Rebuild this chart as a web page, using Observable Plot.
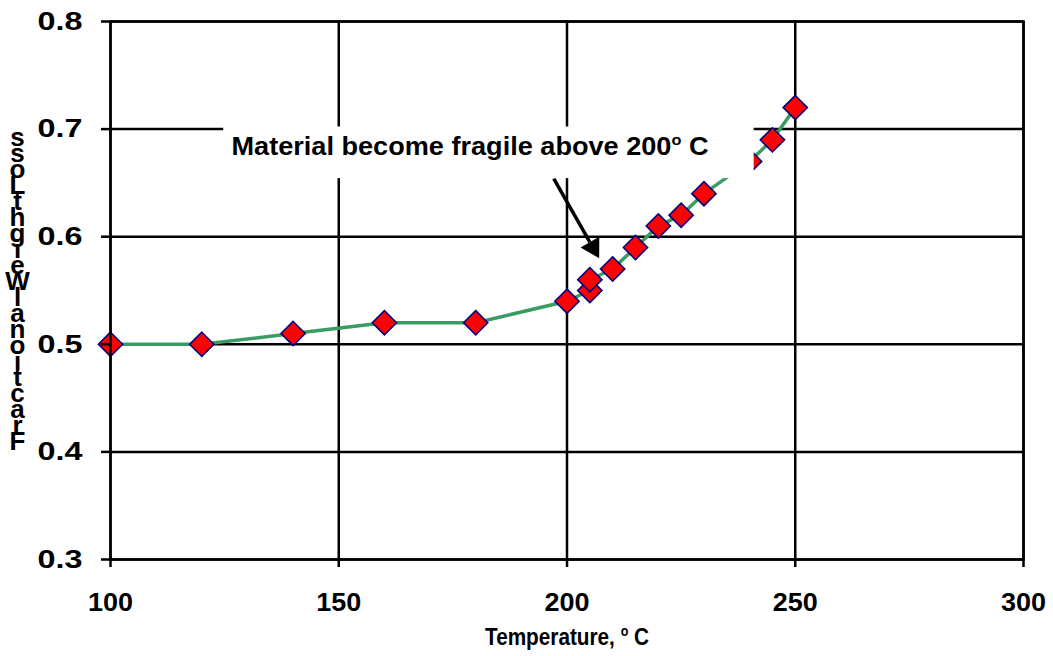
<!DOCTYPE html>
<html>
<head>
<meta charset="utf-8">
<script src="https://cdn.jsdelivr.net/npm/d3@7"></script>
<script src="https://cdn.jsdelivr.net/npm/@observablehq/plot@0.6"></script>
<style>
  html, body { margin: 0; padding: 0; background: #fff; }
  #chart svg { display: block; }
</style>
</head>
<body>
<div id="chart"></div>
<script>
// ---- data ----
const temperature = [100, 120, 140, 160, 180, 200, 205, 205, 210, 215, 220, 225, 230, 240, 245, 250];
const weightLoss  = [0.50, 0.50, 0.51, 0.52, 0.52, 0.54, 0.55, 0.56, 0.57, 0.59, 0.61, 0.62, 0.64, 0.67, 0.69, 0.72];
const xTicks = [100, 150, 200, 250, 300];
const yTicks = [0.3, 0.4, 0.5, 0.6, 0.7, 0.8];
const xLabel = "Temperature, ° C";
const yLabel = "Fractional Weight Loss";
const annotationText = "Material become fragile above 200° C";
// annotation placement in data units
const annBox = {x1: 124.8, x2: 241, y1: 0.654, y2: 0.702};
const annTextAt = {x: 126.5, y: 0.683};
const arrowFrom = {x: 197.1, y: 0.654};
const arrowBase = {x: 205.0, y: 0.595};
const arrowHead = {x: 205.7, y: 0.590};

const data = temperature.map((t, i) => ({t, w: weightLoss[i]}));
// stacked letters, read bottom-to-top (spaces dropped as in the original)
const stacked = yLabel.replace(/ /g, "").split("").reverse().join("\n");

const font = "'Liberation Sans', Arial, sans-serif";

const plot = Plot.plot({
  width: 1053,
  height: 656,
  marginLeft: 110,
  marginRight: 30,
  marginTop: 21,
  marginBottom: 97,
  style: {fontFamily: font, fontSize: "26px", fontWeight: "bold", color: "black", background: "white"},
  x: {domain: [100, 300]},
  y: {domain: [0.3, 0.8]},
  marks: [
    Plot.ruleX(xTicks, {stroke: "black", strokeWidth: 2.5}),
    Plot.ruleY(yTicks, {stroke: "black", strokeWidth: 2.5}),
    Plot.line(data, {x: "t", y: "w", stroke: "#3a9b63", strokeWidth: 3.5}),
    Plot.dot(data, {x: "t", y: "w", symbol: "diamond2", r: 10.9, fill: "#ff0000", stroke: "#000080", strokeWidth: 1.6}),
    Plot.rect([annBox], {x1: "x1", x2: "x2", y1: "y1", y2: "y2", fill: "white"}),
    Plot.text([annotationText], {x: () => annTextAt.x, y: () => annTextAt.y, text: d => d, textAnchor: "start", lineAnchor: "middle", fontSize: 25, fontWeight: "bold", fill: "black", className: "ann"}),
    Plot.link([0], {x1: () => arrowFrom.x, y1: () => arrowFrom.y, x2: () => arrowBase.x, y2: () => arrowBase.y, stroke: "black", strokeWidth: 3.5}),
    Plot.dot([0], {x: () => arrowHead.x, y: () => arrowHead.y, symbol: "triangle", r: 8, fill: "black", rotate: 150.3}),
    Plot.frame({stroke: "black", strokeWidth: 2.5}),
    Plot.axisX(xTicks, {tickSize: 8, tickPadding: 25, strokeWidth: 2.5, fontSize: 26, fontWeight: "bold", label: null}),
    Plot.axisY(yTicks, {tickSize: 9, tickPadding: 19, strokeWidth: 2.5, fontSize: 26, fontWeight: "bold", label: null, tickFormat: d3.format(".1f")}),
    Plot.text([xLabel], {frameAnchor: "bottom", text: d => d, lineAnchor: "middle", dy: 78, fontSize: 23, fontWeight: "bold", className: "xlab"}),
    Plot.text([stacked], {frameAnchor: "left", text: d => d, textAnchor: "middle", lineAnchor: "middle", lineHeight: 0.615, dx: -93, dy: 2, fontSize: 26, fontWeight: "bold"})
  ]
});

// render the "o" of the degree as a superscript
d3.select(plot).selectAll("text").each(function () {
  if (this.querySelector("tspan")) return;
  const t = this.textContent;
  if (!t.includes("°")) return;
  const [a, b] = t.split("°");
  const el = d3.select(this);
  el.text(null);
  el.append("tspan").text(a);
  el.append("tspan").attr("font-size", "0.6em").attr("dy", "-0.67em").text("o");
  el.append("tspan").attr("dy", "0.4em").text(b);
});

// horizontal stretching of texts as in the original rendering
const svg = d3.select(plot);
const fit = (sel, len) => sel.attr("textLength", len).attr("lengthAdjust", "spacingAndGlyphs");
fit(svg.selectAll('g[aria-label="y-axis tick label"] text'), 45);
fit(svg.selectAll('g[aria-label="x-axis tick label"] text'), 45);
fit(svg.selectAll('.ann text'), 477);
fit(svg.selectAll('.xlab text'), 164);

document.getElementById("chart").appendChild(plot);
</script>
</body>
</html>
